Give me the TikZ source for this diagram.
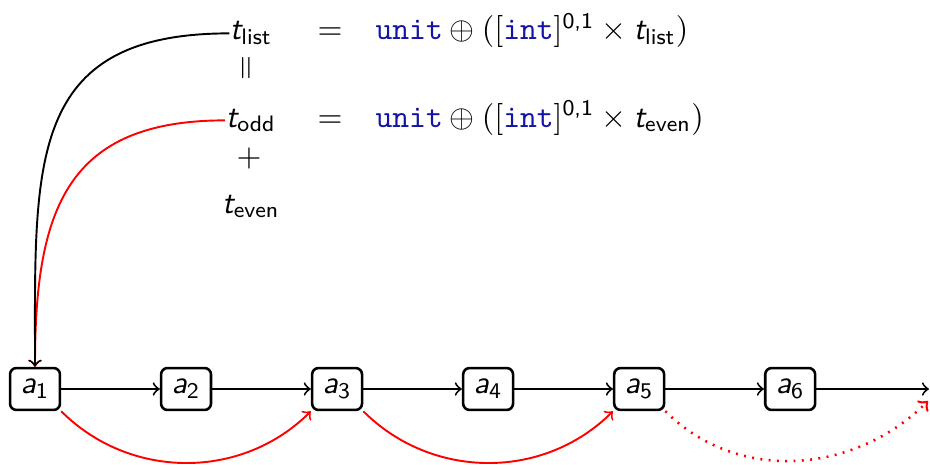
\documentclass[tikz,border=0pt]{standalone}
\usepackage{amsmath,amssymb}
\usepackage{xcolor}
\usepackage{tikz}
\usetikzlibrary{positioning}
\definecolor{kwblue}{RGB}{20,20,165}
\newcommand{\kw}[1]{\textcolor{kwblue}{\texttt{#1}}}
\newcommand{\vr}[1]{\textsf{\slshape #1}}
\newcommand{\tsub}[1]{\vr{t}_{\textsf{#1}}}

\begin{document}
\begin{tikzpicture}[x=0.3125pt,y=-0.3125pt,>=to,
  elt/.style={draw,thick,rounded corners=2pt,minimum width=15.6pt,minimum height=13.1pt,inner sep=0pt},
  nxt/.style={->,semithick},
  skp/.style={->,semithick,red},
  eqn/.style={anchor=base,inner sep=0pt}]
\useasboundingbox (0,0) rectangle (930,465);
% --- type equations ---
\node[eqn] (tl) at (251,40) {$\tsub{list}$};
\node[eqn] (eq1) at (330,40) {$=$};
\node[eqn,anchor=base west] (r1) at (375,40) {$\kw{unit}\oplus([\kw{int}]^{\textsf{0,1}}\times \tsub{list})$};
\node[inner sep=0pt,rotate=90] (par) at (248,68) {$=$};
\node[eqn] (to) at (251,127) {$\tsub{odd}$};
\node[eqn] (eq2) at (330,127) {$=$};
\node[eqn,anchor=base west] (r2) at (375,127) {$\kw{unit}\oplus([\kw{int}]^{\textsf{0,1}}\times \tsub{even})$};
\node[inner sep=0pt] (pl) at (249,158) {$+$};
\node[eqn] (te) at (251,213) {$\tsub{even}$};
% --- the list cells ---
\node[elt] (a1) at (35,389) {$\vr{a}_{\textsf{1}}$};
\node[elt,right=30.8pt of a1] (a2) {$\vr{a}_{\textsf{2}}$};
\node[elt,right=30.8pt of a2] (a3) {$\vr{a}_{\textsf{3}}$};
\node[elt,right=30.8pt of a3] (a4) {$\vr{a}_{\textsf{4}}$};
\node[elt,right=30.8pt of a4] (a5) {$\vr{a}_{\textsf{5}}$};
\node[elt,right=30.8pt of a5] (a6) {$\vr{a}_{\textsf{6}}$};
\coordinate (end) at (929,389);
\coordinate (endd) at (928,401);
\foreach \i/\j in {a1/a2,a2/a3,a3/a4,a4/a5,a5/a6,a6/end}
  \draw[nxt] (\i) -- (\j);
\draw[skp] (a1.south east) to[out=-45,in=-135] (a3.south west);
\draw[skp] (a3.south east) to[out=-45,in=-135] (a5.south west);
\draw[skp,dotted,thick] (a5.south east) to[out=-45,in=-135] (endd);
% --- types to the first cell ---
\draw[skp] (to.west) to[out=180,in=90,looseness=1.3] (a1.north);
\draw[nxt] (tl.west) to[out=180,in=90,looseness=1.35] (a1.north);
\end{tikzpicture}
\end{document}
